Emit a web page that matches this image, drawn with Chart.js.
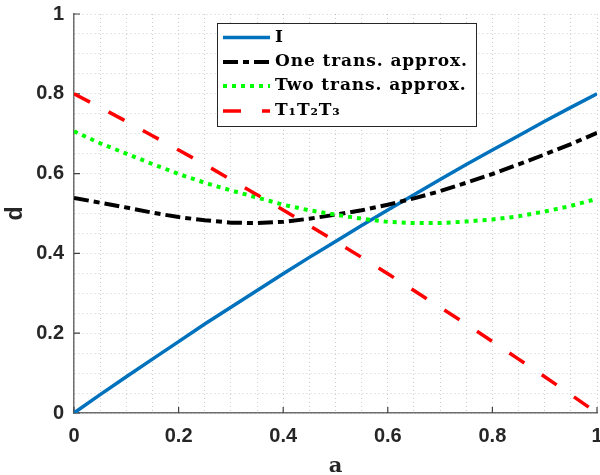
<!DOCTYPE html>
<html>
<head>
    <title>d vs a</title>
    <script src="https://cdn.jsdelivr.net/npm/chart.js"></script>
    <style>
        html, body { margin: 0; padding: 0; background: #fff; }
        .chart-container { width: 600px; height: 475px; position: relative; }
    </style>
</head>
<body>
    <div class="chart-container">
        <canvas id="chart"></canvas>
    </div>

    <script>
        // values at a = 0, 0.05, ..., 1
        const aValues = [0, 0.05, 0.1, 0.15, 0.2, 0.25, 0.3, 0.35, 0.4, 0.45, 0.5,
                         0.55, 0.6, 0.65, 0.7, 0.75, 0.8, 0.85, 0.9, 0.95, 1];
        const identity = [0, 0.046, 0.091, 0.135, 0.179, 0.223, 0.265, 0.307, 0.349, 0.390, 0.430,
                          0.470, 0.509, 0.547, 0.585, 0.623, 0.659, 0.695, 0.731, 0.766, 0.800];
        const oneTrans = [0.539, 0.527, 0.515, 0.502, 0.491, 0.483, 0.477, 0.476, 0.479, 0.487, 0.497,
                          0.508, 0.522, 0.538, 0.556, 0.577, 0.599, 0.623, 0.648, 0.674, 0.702];
        const twoTrans = [0.706, 0.676, 0.650, 0.624, 0.599, 0.577, 0.558, 0.540, 0.522, 0.508, 0.497,
                          0.487, 0.479, 0.476, 0.476, 0.480, 0.485, 0.493, 0.505, 0.519, 0.537];
        const t1t2t3 = [0.800, 0.766, 0.731, 0.695, 0.659, 0.623, 0.585, 0.547, 0.509, 0.470, 0.430,
                        0.390, 0.349, 0.307, 0.265, 0.223, 0.179, 0.135, 0.091, 0.046, 0];
        const seriesLabels = ['I', 'One trans. approx.', 'Two trans. approx.', 'T\u2081T\u2082T\u2083'];
        const majorTicks = [0, 0.2, 0.4, 0.6, 0.8, 1];

        const toPoints = ys => ys.map((y, i) => ({ x: aValues[i], y: y }));
        const isMajor = v => majorTicks.some(t => Math.abs(t - v) < 1e-6);

        const tickFont = { family: 'Liberation Sans', size: 20, weight: 'bold' };

        // MATLAB style ticks pointing into the plot
        const innerTicks = {
            id: 'innerTicks',
            beforeDatasetsDraw(chart) {
                const ctx = chart.ctx;
                const xs = chart.scales.x, ys = chart.scales.y;
                ctx.save();
                ctx.strokeStyle = '#404040';
                ctx.lineWidth = 1.2;
                ctx.beginPath();
                majorTicks.forEach(t => {
                    const px = xs.getPixelForValue(t);
                    ctx.moveTo(px, ys.bottom);
                    ctx.lineTo(px, ys.bottom - 6);
                    const py = ys.getPixelForValue(t);
                    ctx.moveTo(xs.left, py);
                    ctx.lineTo(xs.left + 6, py);
                });
                ctx.stroke();
                ctx.restore();
            }
        };

        const boxLegend = {
            id: 'boxLegend',
            afterDraw(chart) {
                const ctx = chart.ctx;
                const rows = [37.5, 62, 86, 111];
                ctx.save();
                ctx.fillStyle = '#fff';
                ctx.fillRect(217.5, 23.5, 259, 103);
                ctx.strokeStyle = '#262626';
                ctx.lineWidth = 1;
                ctx.strokeRect(217.5, 23.5, 259, 103);
                chart.data.datasets.forEach((ds, i) => {
                    ctx.setLineDash(ds.borderDash || []);
                    ctx.lineWidth = ds.borderWidth;
                    ctx.strokeStyle = ds.borderColor;
                    ctx.lineCap = 'butt';
                    ctx.beginPath();
                    ctx.moveTo(223, rows[i]);
                    ctx.lineTo(270, rows[i]);
                    ctx.stroke();
                    ctx.setLineDash([]);
                    ctx.fillStyle = '#000';
                    ctx.font = 'bold 17px "DejaVu Serif"';
                    ctx.letterSpacing = '0.9px';
                    ctx.textAlign = 'left';
                    ctx.textBaseline = 'middle';
                    ctx.fillText(ds.label, 275, rows[i]);
                });
                ctx.restore();
            }
        };

        const ctx = document.getElementById('chart').getContext('2d');
        new Chart(ctx, {
            type: 'line',
            data: {
                datasets: [{
                    label: seriesLabels[0],
                    data: toPoints(identity),
                    borderColor: '#0072BD',
                    borderWidth: 3.5,
                    order: 4
                }, {
                    label: seriesLabels[1],
                    data: toPoints(oneTrans),
                    borderColor: '#000000',
                    borderWidth: 4,
                    borderDash: [15, 5, 6, 5],
                    order: 3
                }, {
                    label: seriesLabels[2],
                    data: toPoints(twoTrans),
                    borderColor: '#00FF00',
                    borderWidth: 4,
                    borderDash: [4, 5],
                    order: 2
                }, {
                    label: seriesLabels[3],
                    data: toPoints(t1t2t3),
                    borderColor: '#FF0000',
                    borderWidth: 3.5,
                    borderDash: [18, 21],
                    order: 1
                }]
            },
            options: {
                responsive: true,
                maintainAspectRatio: false,
                animation: false,
                layout: { padding: { top: 14, right: 3, bottom: 0, left: 0 } },
                elements: {
                    point: { radius: 0 },
                    line: { tension: 0, fill: false, borderCapStyle: 'butt' }
                },
                scales: {
                    x: {
                        type: 'linear',
                        min: 0,
                        max: 1,
                        ticks: {
                            stepSize: 0.05,
                            autoSkip: false,
                            maxRotation: 0,
                            padding: 11,
                            color: '#262626',
                            font: tickFont,
                            callback: v => isMajor(v) ? String(+v.toFixed(1)) : ''
                        },
                        grid: { color: 'rgba(0,0,0,0.2)', lineWidth: 1, drawTicks: false },
                        border: { display: true, color: '#6e6e6e', width: 1.5, dash: [1, 3] },
                        title: {
                            display: true,
                            text: 'a',
                            color: '#262626',
                            font: { family: 'DejaVu Serif', size: 21, weight: 'bold', lineHeight: 0.8 },
                            padding: { top: 0, bottom: 0 }
                        },
                        afterFit: s => { s.height = 62; s.paddingLeft = 0; s.paddingRight = 0; }
                    },
                    y: {
                        type: 'linear',
                        min: 0,
                        max: 1,
                        ticks: {
                            stepSize: 0.05,
                            autoSkip: false,
                            padding: 10,
                            color: '#262626',
                            font: tickFont,
                            callback: v => isMajor(v) ? String(+v.toFixed(1)) : ''
                        },
                        grid: { color: 'rgba(0,0,0,0.2)', lineWidth: 1, drawTicks: false },
                        border: { display: true, color: '#6e6e6e', width: 1.5, dash: [1, 3] },
                        title: {
                            display: true,
                            text: 'd',
                            color: '#262626',
                            font: { family: 'Liberation Sans', size: 23, weight: 'bold' },
                            padding: { top: 2, bottom: 0 }
                        },
                        afterFit: s => { s.width = 74; s.paddingTop = 0; s.paddingBottom = 0; }
                    }
                },
                plugins: {
                    legend: { display: false },
                    tooltip: { enabled: false }
                }
            },
            plugins: [innerTicks, boxLegend]
        });
    </script>
</body>
</html>
